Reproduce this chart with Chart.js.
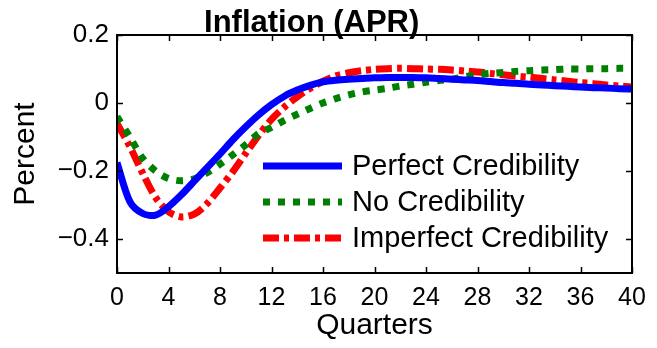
<!DOCTYPE html>
<html>
<head>
<meta charset="utf-8">
<script src="https://cdn.jsdelivr.net/npm/chart.js@4.4.1/dist/chart.umd.min.js"></script>
<style>
html,body{margin:0;padding:0;background:#fff;}
canvas{display:block;}
</style>
</head>
<body>
<canvas id="c" width="657" height="348"></canvas>
<script>
const quarters = Array.from({length: 41}, (_, i) => i);
const perfectCredibility = [-0.175,-0.29,-0.325,-0.33,-0.305,-0.27,-0.23,-0.19,-0.15,-0.108,-0.07,-0.035,-0.005,0.02,0.038,0.052,0.062,0.067,0.07,0.072,0.074,0.075,0.075,0.075,0.074,0.072,0.07,0.068,0.066,0.063,0.06,0.058,0.055,0.053,0.051,0.049,0.047,0.045,0.044,0.042,0.041];
const noCredibility = [-0.04,-0.1,-0.163,-0.2,-0.222,-0.229,-0.223,-0.205,-0.18,-0.152,-0.123,-0.09,-0.072,-0.051,-0.033,-0.016,0.0,0.013,0.024,0.032,0.038,0.043,0.05,0.055,0.061,0.066,0.07,0.077,0.083,0.087,0.09,0.093,0.095,0.097,0.098,0.1,0.1,0.101,0.101,0.102,0.102];
const imperfectCredibility = [-0.06,-0.128,-0.207,-0.278,-0.32,-0.335,-0.327,-0.296,-0.25,-0.202,-0.148,-0.095,-0.048,-0.012,0.018,0.043,0.064,0.08,0.089,0.095,0.099,0.101,0.102,0.101,0.1,0.099,0.097,0.094,0.091,0.087,0.083,0.079,0.076,0.072,0.068,0.064,0.06,0.057,0.053,0.05,0.047];
const seriesNames = ['Perfect Credibility','No Credibility','Imperfect Credibility'];
const xTicks = [0,4,8,12,16,20,24,28,32,36,40];
const yTicks = [-0.4,-0.2,0,0.2];
const titleText = 'Inflation (APR)';
const xTitle = 'Quarters';
const yTitle = 'Percent';

const styles = [
  {color:'#0000ff', dash:[], width:7},
  {color:'#008000', dash:[7,8], width:7},
  {color:'#ff0000', dash:[16,5,5,5], width:7}
];
const allSeries = [perfectCredibility, noCredibility, imperfectCredibility];

const datasets = allSeries.map((s, k) => ({
  label: seriesNames[k],
  data: quarters.map((q, i) => ({x: q, y: s[i]})),
  borderColor: styles[k].color,
  borderDash: styles[k].dash,
  borderWidth: styles[k].width,
  borderCapStyle: 'butt',
  pointRadius: 0,
  fill: false,
  tension: 0.3
}));

const fmt = v => {
  if (Math.abs(v) < 1e-9) return '0';
  const s = Math.abs(v).toFixed(1);
  return (v < 0 ? '\u2212' : '') + s;
};

const FONT = '"Liberation Sans", Arial, sans-serif';

const framePlugin = {
  id: 'frame',
  afterDatasetsDraw(chart) {
    const ctx = chart.ctx;
    const a = chart.chartArea;
    const xs = chart.scales.x, ys = chart.scales.y;
    ctx.save();
    ctx.strokeStyle = '#000';
    ctx.lineWidth = 2;
    ctx.strokeRect(a.left, a.top, a.right - a.left, a.bottom - a.top);
    ctx.lineWidth = 1.5;
    const tl = 6;
    ctx.beginPath();
    xTicks.forEach(t => {
      const px = Math.round(xs.getPixelForValue(t)) + 0.5;
      ctx.moveTo(px, a.bottom); ctx.lineTo(px, a.bottom - tl);
      ctx.moveTo(px, a.top); ctx.lineTo(px, a.top + tl);
    });
    yTicks.forEach(t => {
      const py = Math.round(ys.getPixelForValue(t)) + 0.5;
      ctx.moveTo(a.left, py); ctx.lineTo(a.left + tl, py);
      ctx.moveTo(a.right, py); ctx.lineTo(a.right - tl, py);
    });
    ctx.stroke();
    ctx.restore();
  },
  afterDraw(chart) {
    const ctx = chart.ctx;
    const a = chart.chartArea;
    ctx.save();
    ctx.fillStyle = '#000';
    ctx.font = 'bold 31px ' + FONT;
    ctx.textAlign = 'center';
    ctx.textBaseline = 'alphabetic';
    ctx.fillText(titleText, a.left + (a.right - a.left) * 0.378, 32);
    const rows = [166, 202, 238];
    ctx.font = '29px ' + FONT;
    ctx.textAlign = 'left';
    ctx.textBaseline = 'middle';
    rows.forEach((ry, k) => {
      ctx.save();
      ctx.strokeStyle = styles[k].color;
      ctx.lineWidth = styles[k].width;
      ctx.lineCap = 'butt';
      ctx.setLineDash(styles[k].dash);
      ctx.beginPath();
      ctx.moveTo(263, ry);
      ctx.lineTo(342, ry);
      ctx.stroke();
      ctx.restore();
      ctx.fillStyle = '#000';
      ctx.fillText(seriesNames[k], 352, ry + 1);
    });
    ctx.restore();
  }
};

new Chart(document.getElementById('c'), {
  type: 'line',
  data: { datasets },
  options: {
    responsive: false,
    animation: false,
    layout: { padding: { top: 35, right: 25, left: 0, bottom: 0 } },
    plugins: { legend: { display: false }, title: { display: false }, tooltip: { enabled: false } },
    scales: {
      x: {
        type: 'linear', min: 0, max: 40,
        afterBuildTicks: s => { s.ticks = xTicks.map(v => ({value: v})); },
        afterFit: s => { s.height = 75; },
        grid: { display: false, drawTicks: false },
        border: { display: false },
        ticks: { color: '#000', font: { size: 25, family: FONT }, padding: 10, maxRotation: 0, autoSkip: false, callback: v => String(v) },
        title: { display: true, text: xTitle, color: '#000', font: { size: 30, family: FONT }, padding: { top: 0, bottom: 4 } }
      },
      y: {
        type: 'linear', min: -0.5, max: 0.2,
        afterBuildTicks: s => { s.ticks = yTicks.map(v => ({value: v})); },
        afterFit: s => { s.width = 117; },
        grid: { display: false, drawTicks: false },
        border: { display: false },
        ticks: { color: '#000', font: { size: 26, family: FONT }, padding: 8, autoSkip: false, callback: v => fmt(v) },
        title: { display: true, text: yTitle, color: '#000', font: { size: 30, family: FONT }, padding: { top: 8, bottom: 0 } }
      }
    }
  },
  plugins: [framePlugin]
});
</script>
</body>
</html>
